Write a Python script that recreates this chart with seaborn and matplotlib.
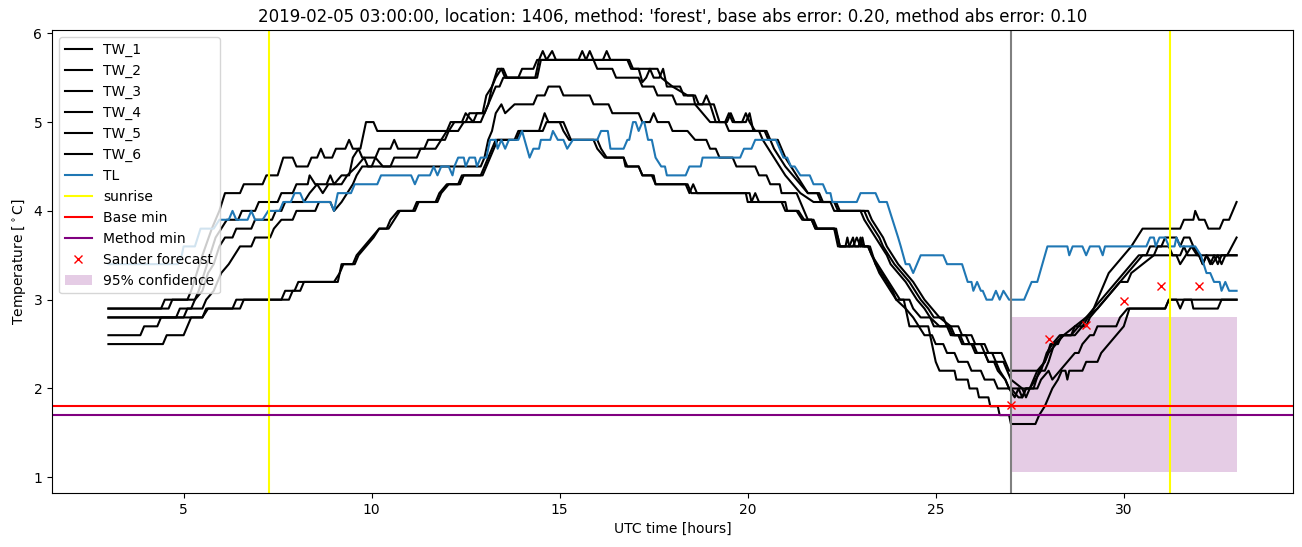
import matplotlib
matplotlib.use("Agg")
import matplotlib.pyplot as plt
import seaborn as sns
import pandas as pd

# ---------------- data (hour, temperature) ----------------
TW_1 = [(3.0,2.9),(4.6,2.9),(4.7,3.0),(5.1,3.0),(5.2,3.1),(5.35,3.3),(5.5,3.5),(5.75,3.8),(5.95,4.0),(6.1,4.2),(6.5,4.2),(6.6,4.3),(7.1,4.3),(7.2,4.4),(7.5,4.4),(7.65,4.6),(7.9,4.6),(8.0,4.5),(8.3,4.5),(8.4,4.6),(8.55,4.6),(8.65,4.7),(8.75,4.6),(8.95,4.6),(9.05,4.7),(9.3,4.7),(9.4,4.8),(9.5,4.7),(9.7,4.7),(9.85,5.0),(10.05,5.0),(10.15,4.9),(12.0,4.9),(12.1,5.0),(12.5,5.0),(12.6,5.1),(12.95,5.1),(13.05,5.3),(13.2,5.4),(13.35,5.6),(13.5,5.6),(13.6,5.5),(14.35,5.5),(14.45,5.7),(14.55,5.8),(14.65,5.7),(14.8,5.8),(14.9,5.7),(15.5,5.7),(15.6,5.8),(15.7,5.7),(15.8,5.8),(15.9,5.7),(16.15,5.7),(16.25,5.8),(16.35,5.7),(16.85,5.7),(16.95,5.6),(17.4,5.6),(17.5,5.5),(17.65,5.5),(17.75,5.6),(17.85,5.4),(18.2,5.4),(18.3,5.3),(18.55,5.3),(18.6,5.2),(18.8,5.2),(18.9,5.3),(19.0,5.2),(19.1,5.2),(19.25,5.0),(19.4,5.0),(19.5,5.1),(19.6,5.0),(19.95,5.0),(20.05,5.1),(20.15,4.9),(20.45,4.9),(20.55,4.8),(20.8,4.8),(20.9,4.7),(21.0,4.6),(21.15,4.5),(21.3,4.4),(21.45,4.3),(21.6,4.2),(21.85,4.2),(21.95,4.1),(22.3,4.1),(22.4,4.0),(23.1,4.0),(23.2,3.9),(23.35,3.8),(23.5,3.7),(23.6,3.6),(23.75,3.5),(23.9,3.4),(24.1,3.3),(24.3,3.2),(24.45,3.1),(24.6,3.0),(24.8,2.9),(24.95,2.8),(25.2,2.8),(25.3,2.7),(25.6,2.7),(25.7,2.6),(25.95,2.6),(26.05,2.5),(26.3,2.5),(26.4,2.4),(26.75,2.4),(26.85,2.3),(26.95,2.2),(27.9,2.2),(28.0,2.3),(28.15,2.5),(28.4,2.6),(28.7,2.7),(29.0,2.8),(29.3,2.9),(29.5,3.0),(29.7,3.1),(29.9,3.2),(30.1,3.2),(30.2,3.3),(30.5,3.4),(30.8,3.5),(31.4,3.5),(31.5,3.4),(31.65,3.5),(31.8,3.6),(31.95,3.5),(33.0,3.5)]

TW_2 = [(3.0,2.9),(4.4,2.9),(4.5,3.0),(5.3,3.0),(5.4,3.1),(5.55,3.3),(5.7,3.5),(5.85,3.7),(6.0,3.8),(6.15,3.9),(6.45,3.9),(6.55,4.0),(6.9,4.0),(7.0,4.1),(7.5,4.1),(7.6,4.2),(7.9,4.2),(8.0,4.3),(8.3,4.3),(8.35,4.4),(8.5,4.3),(8.8,4.3),(8.9,4.4),(9.0,4.3),(9.2,4.4),(9.4,4.4),(9.5,4.6),(9.65,4.7),(9.75,4.6),(10.1,4.6),(10.2,4.7),(10.5,4.7),(10.6,4.8),(10.7,4.7),(11.4,4.7),(11.5,4.8),(11.95,4.8),(12.05,4.9),(12.2,5.0),(12.4,5.0),(12.5,5.1),(12.7,5.0),(12.8,5.1),(13.0,5.1),(13.1,5.2),(13.2,5.4),(13.3,5.5),(13.45,5.6),(13.55,5.5),(13.9,5.5),(14.0,5.6),(14.3,5.6),(14.4,5.7),(16.8,5.7),(16.9,5.6),(17.1,5.6),(17.2,5.45),(17.3,5.5),(17.4,5.6),(17.6,5.6),(17.7,5.5),(18.0,5.4),(18.4,5.3),(18.6,5.3),(18.7,5.2),(19.0,5.2),(19.15,5.0),(19.45,5.0),(19.55,5.1),(19.65,5.0),(19.85,5.0),(19.95,5.1),(20.05,5.0),(20.2,4.9),(20.5,4.9),(20.6,4.8),(20.7,4.7),(20.85,4.6),(21.0,4.5),(21.2,4.4),(21.4,4.3),(21.6,4.2),(21.9,4.2),(22.0,4.1),(22.35,4.1),(22.45,4.0),(23.2,4.0),(23.3,3.9),(23.45,3.8),(23.6,3.7),(23.7,3.6),(23.85,3.5),(24.0,3.4),(24.2,3.3),(24.4,3.2),(24.55,3.1),(24.7,3.0),(24.9,2.9),(25.1,2.8),(25.4,2.7),(25.5,2.6),(25.8,2.6),(25.9,2.5),(26.2,2.5),(26.3,2.4),(26.5,2.4),(26.6,2.3),(26.8,2.3),(26.9,2.2),(27.0,2.1),(27.3,2.0),(27.4,1.9),(27.5,2.0),(27.65,2.1),(27.8,2.2),(27.95,2.4),(28.1,2.5),(28.3,2.6),(28.6,2.6),(28.8,2.7),(29.0,2.8),(29.2,2.9),(29.4,3.1),(29.6,3.3),(29.8,3.4),(30.0,3.5),(30.2,3.6),(30.35,3.7),(30.5,3.8),(31.5,3.8),(31.6,3.9),(31.85,3.9),(31.9,4.0),(32.0,3.9),(32.15,3.9),(32.25,3.8),(32.55,3.8),(32.65,3.9),(32.8,3.9),(33.0,4.1)]

TW_3 = [(3.0,2.8),(4.8,2.8),(4.9,2.9),(5.2,2.9),(5.3,3.0),(5.5,3.1),(5.65,3.3),(5.8,3.4),(5.95,3.6),(6.1,3.7),(6.3,3.7),(6.4,3.8),(6.8,3.8),(6.9,3.9),(7.35,3.9),(7.45,4.0),(7.6,4.0),(7.7,4.1),(8.2,4.1),(8.35,4.2),(8.55,4.3),(8.7,4.2),(8.85,4.3),(9.2,4.3),(9.35,4.4),(9.6,4.5),(9.8,4.6),(9.9,4.5),(10.5,4.5),(10.6,4.6),(11.2,4.6),(11.3,4.7),(11.7,4.7),(11.85,4.8),(12.0,4.9),(12.3,4.9),(12.45,5.0),(12.9,5.0),(13.0,5.1),(13.1,5.2),(13.3,5.4),(13.4,5.4),(13.5,5.5),(14.4,5.5),(14.5,5.7),(15.9,5.7),(16.0,5.6),(16.4,5.6),(16.5,5.5),(17.1,5.5),(17.2,5.4),(17.5,5.4),(17.6,5.3),(18.0,5.3),(18.1,5.2),(18.6,5.2),(18.8,5.1),(19.0,5.0),(19.4,5.0),(19.5,4.9),(20.3,4.9),(20.4,4.8),(20.55,4.7),(20.7,4.6),(20.85,4.5),(21.0,4.4),(21.2,4.3),(21.4,4.2),(21.75,4.1),(22.2,4.1),(22.3,4.0),(23.0,4.0),(23.1,3.9),(23.25,3.8),(23.4,3.7),(23.55,3.6),(23.7,3.5),(23.8,3.4),(24.0,3.3),(24.2,3.2),(24.35,3.1),(24.5,3.0),(24.7,2.9),(24.85,2.8),(25.1,2.7),(25.35,2.7),(25.45,2.6),(25.65,2.6),(25.75,2.5),(26.0,2.5),(26.1,2.4),(26.3,2.4),(26.4,2.3),(26.55,2.3),(26.65,2.2),(26.85,2.1),(26.95,2.0),(27.5,2.0),(27.7,2.2),(27.9,2.3),(28.0,2.4),(28.2,2.5),(28.4,2.6),(28.7,2.6),(28.9,2.7),(29.2,2.9),(29.4,3.0),(29.6,3.1),(29.8,3.2),(30.0,3.3),(30.2,3.4),(30.4,3.5),(30.6,3.5),(30.7,3.6),(31.0,3.6),(31.1,3.7),(31.4,3.7),(31.5,3.6),(31.6,3.7),(31.75,3.7),(31.85,3.6),(32.0,3.5),(32.1,3.4),(32.2,3.5),(32.3,3.4),(32.4,3.5),(32.5,3.4),(32.6,3.5),(32.75,3.5),(33.0,3.7)]

TW_4 = [(3.0,2.8),(5.0,2.8),(5.1,2.9),(5.5,2.9),(5.6,3.0),(5.8,3.1),(6.0,3.3),(6.2,3.4),(6.35,3.5),(6.5,3.6),(6.8,3.6),(6.9,3.7),(7.3,3.7),(7.4,3.8),(7.6,3.9),(7.9,3.9),(8.0,4.0),(8.5,4.0),(8.6,4.1),(8.9,4.1),(9.0,4.0),(9.2,4.1),(9.35,4.2),(9.5,4.3),(9.6,4.4),(9.75,4.5),(10.0,4.5),(10.1,4.6),(10.3,4.5),(12.9,4.5),(13.0,4.6),(13.1,4.8),(13.2,4.9),(13.3,5.1),(13.45,5.2),(13.55,5.1),(13.8,5.2),(14.3,5.2),(14.4,5.3),(14.6,5.3),(14.7,5.4),(15.0,5.4),(15.1,5.3),(15.8,5.3),(15.9,5.2),(16.3,5.2),(16.4,5.1),(17.1,5.1),(17.2,5.0),(17.4,5.0),(17.5,5.1),(17.6,5.0),(17.9,5.0),(18.0,4.9),(18.4,4.9),(18.6,4.8),(18.9,4.8),(19.0,4.7),(19.15,4.7),(19.25,4.6),(19.6,4.6),(19.7,4.5),(20.2,4.5),(20.3,4.4),(20.5,4.4),(20.6,4.3),(20.85,4.3),(20.9,4.2),(21.3,4.2),(21.4,4.1),(21.5,4.0),(21.6,3.9),(21.7,3.9),(21.8,3.8),(22.3,3.8),(22.4,3.7),(22.45,3.6),(22.8,3.6),(22.9,3.7),(23.0,3.6),(23.2,3.6),(23.3,3.5),(23.45,3.4),(23.6,3.3),(23.75,3.2),(23.9,3.1),(24.05,3.0),(24.3,3.0),(24.4,2.9),(24.6,2.8),(24.85,2.8),(24.95,2.7),(25.3,2.7),(25.4,2.6),(25.6,2.6),(25.7,2.5),(25.95,2.5),(26.05,2.4),(26.3,2.4),(26.4,2.3),(26.6,2.3),(26.7,2.2),(26.85,2.1),(26.95,2.0),(27.1,1.9),(27.2,2.0),(27.3,1.9),(27.4,2.0),(27.6,2.0),(27.75,2.2),(27.9,2.3),(28.05,2.5),(28.25,2.5),(28.35,2.6),(28.6,2.6),(28.7,2.7),(29.0,2.7),(29.1,2.8),(29.3,2.9),(29.5,3.0),(29.7,3.1),(29.9,3.2),(30.1,3.3),(30.3,3.4),(30.5,3.5),(30.8,3.5),(30.9,3.6),(31.2,3.6),(31.3,3.5),(31.5,3.5),(31.6,3.6),(31.7,3.5),(32.0,3.5),(32.1,3.4),(32.2,3.5),(32.35,3.4),(32.5,3.5),(32.6,3.4),(32.7,3.5),(33.0,3.5)]

TW_5 = [(3.0,2.6),(3.85,2.6),(3.95,2.7),(4.3,2.7),(4.4,2.8),(5.5,2.8),(5.6,2.9),(6.3,2.9),(6.4,3.0),(7.6,3.0),(7.7,3.1),(7.95,3.1),(8.05,3.2),(9.1,3.2),(9.2,3.4),(9.5,3.4),(9.6,3.5),(9.8,3.6),(10.0,3.7),(10.2,3.8),(10.4,3.8),(10.5,3.9),(10.7,4.0),(11.1,4.0),(11.2,4.1),(11.7,4.1),(11.8,4.2),(12.0,4.3),(12.3,4.3),(12.4,4.4),(12.9,4.4),(13.0,4.5),(13.1,4.6),(13.2,4.7),(13.3,4.8),(13.8,4.8),(13.9,4.9),(14.45,4.9),(14.6,5.1),(14.7,5.0),(15.1,5.0),(15.2,4.9),(15.3,4.8),(15.9,4.8),(16.0,4.7),(16.2,4.6),(16.7,4.6),(16.75,4.5),(17.1,4.5),(17.2,4.4),(17.5,4.4),(17.55,4.3),(18.35,4.3),(18.45,4.2),(18.55,4.3),(18.65,4.2),(19.95,4.2),(20.0,4.1),(20.9,4.1),(21.0,4.0),(21.3,4.0),(21.45,3.9),(21.7,3.9),(21.8,3.8),(22.3,3.8),(22.4,3.6),(22.6,3.6),(22.65,3.7),(22.7,3.6),(22.95,3.6),(23.0,3.7),(23.05,3.6),(23.2,3.6),(23.3,3.5),(23.4,3.4),(23.5,3.3),(23.65,3.2),(23.8,3.1),(23.95,3.0),(24.2,2.9),(24.4,2.8),(24.55,2.7),(24.7,2.6),(24.9,2.6),(25.0,2.5),(25.2,2.5),(25.3,2.4),(25.5,2.4),(25.6,2.3),(25.85,2.3),(25.95,2.2),(26.2,2.2),(26.3,2.1),(26.55,2.1),(26.65,2.0),(27.0,2.0),(27.2,1.9),(27.3,1.9),(27.4,2.0),(27.7,2.0),(27.8,2.1),(28.0,2.2),(28.1,2.1),(28.3,2.2),(28.5,2.3),(28.7,2.4),(28.8,2.4),(28.9,2.5),(29.1,2.6),(29.2,2.6),(29.3,2.7),(29.8,2.7),(29.9,2.8),(30.1,2.9),(31.1,2.9),(31.2,3.0),(31.4,3.0),(31.5,2.9),(31.6,3.0),(31.8,3.0),(31.85,2.9),(32.5,2.9),(32.6,3.0),(33.0,3.0)]

TW_6 = [(3.0,2.5),(4.45,2.5),(4.55,2.6),(5.0,2.6),(5.1,2.7),(5.2,2.8),(5.5,2.8),(5.65,2.9),(6.5,2.9),(6.6,3.0),(7.8,3.0),(7.9,3.1),(8.1,3.1),(8.2,3.2),(9.0,3.2),(9.15,3.3),(9.25,3.4),(9.55,3.4),(9.65,3.5),(9.85,3.6),(10.05,3.7),(10.2,3.8),(10.45,3.8),(10.6,3.9),(10.75,4.0),(11.15,4.0),(11.25,4.1),(11.75,4.1),(11.85,4.2),(12.05,4.3),(12.35,4.3),(12.45,4.4),(12.95,4.4),(13.05,4.5),(13.15,4.6),(13.25,4.7),(13.35,4.8),(13.85,4.8),(13.95,4.9),(14.55,4.9),(14.65,5.0),(15.0,5.0),(15.1,4.9),(15.25,4.8),(16.0,4.8),(16.1,4.7),(16.25,4.6),(16.7,4.6),(16.8,4.5),(17.1,4.5),(17.2,4.4),(17.45,4.4),(17.55,4.3),(18.4,4.3),(18.5,4.2),(20.05,4.2),(20.1,4.1),(20.2,4.2),(20.3,4.1),(21.0,4.1),(21.05,4.0),(21.35,4.0),(21.5,3.9),(21.75,3.9),(21.85,3.8),(22.35,3.8),(22.45,3.6),(22.7,3.6),(22.8,3.7),(22.85,3.6),(23.0,3.6),(23.05,3.7),(23.1,3.6),(23.25,3.6),(23.4,3.4),(23.55,3.3),(23.7,3.2),(23.85,3.1),(23.95,3.0),(24.15,3.0),(24.25,2.8),(24.3,2.7),(24.8,2.7),(24.9,2.5),(25.0,2.3),(25.1,2.2),(25.5,2.2),(25.55,2.1),(25.85,2.1),(25.9,2.0),(26.1,2.0),(26.15,1.9),(26.4,1.9),(26.45,1.8),(26.65,1.8),(26.7,1.7),(26.95,1.7),(27.0,1.6),(27.65,1.6),(27.75,1.7),(27.9,1.8),(28.0,1.9),(28.1,2.0),(28.25,2.1),(28.35,2.2),(28.45,2.2),(28.5,2.1),(28.55,2.2),(28.9,2.2),(29.0,2.3),(29.3,2.3),(29.4,2.4),(29.6,2.5),(29.8,2.6),(30.0,2.7),(30.15,2.9),(31.1,2.9),(31.2,3.0),(33.0,3.0)]

TL = [(3.0,3.4),(4.85,3.4),(4.95,3.5),(5.0,3.6),(5.3,3.6),(5.45,3.8),(5.8,3.8),(5.95,3.9),(6.2,3.9),(6.3,4.0),(6.4,3.9),(6.7,3.9),(6.8,4.0),(6.9,3.9),(7.1,3.9),(7.25,4.0),(7.55,4.0),(7.65,4.1),(7.85,4.1),(7.95,4.2),(8.1,4.2),(8.2,4.1),(8.9,4.1),(9.0,4.0),(9.1,4.2),(9.45,4.2),(9.55,4.3),(10.15,4.3),(10.25,4.4),(11.05,4.4),(11.15,4.3),(11.25,4.4),(11.55,4.4),(11.65,4.5),(11.75,4.4),(11.85,4.5),(12.05,4.5),(12.15,4.4),(12.2,4.5),(12.3,4.6),(12.45,4.6),(12.5,4.5),(12.6,4.6),(12.75,4.6),(12.8,4.5),(12.9,4.6),(13.05,4.6),(13.15,4.8),(13.3,4.8),(13.35,4.7),(13.45,4.8),(13.55,4.7),(13.65,4.8),(13.9,4.8),(14.0,4.9),(14.2,4.6),(14.3,4.7),(14.45,4.7),(14.5,4.8),(14.75,4.8),(14.82,4.9),(14.95,4.8),(15.1,4.8),(15.2,4.7),(15.35,4.8),(16.0,4.8),(16.1,4.9),(16.28,4.9),(16.35,4.7),(16.7,4.7),(16.8,4.8),(16.85,4.8),(16.95,5.0),(17.02,5.0),(17.1,4.9),(17.2,5.0),(17.25,5.0),(17.35,4.8),(17.45,4.8),(17.55,4.6),(17.7,4.5),(17.8,4.5),(17.85,4.4),(18.35,4.4),(18.45,4.5),(18.75,4.5),(18.8,4.6),(19.8,4.6),(19.9,4.7),(20.1,4.7),(20.2,4.8),(20.75,4.8),(20.85,4.7),(20.95,4.6),(21.05,4.6),(21.15,4.5),(21.25,4.5),(21.4,4.4),(21.65,4.4),(21.75,4.3),(22.0,4.3),(22.1,4.2),(22.2,4.2),(22.25,4.1),(22.9,4.1),(23.0,4.2),(23.4,4.2),(23.5,4.1),(23.7,4.1),(23.85,3.9),(24.0,3.7),(24.07,3.6),(24.2,3.4),(24.3,3.4),(24.4,3.3),(24.6,3.5),(25.2,3.5),(25.3,3.4),(25.7,3.4),(25.85,3.2),(25.95,3.2),(26.0,3.1),(26.1,3.2),(26.2,3.1),(26.25,3.1),(26.35,3.0),(26.5,3.0),(26.6,3.1),(26.7,3.0),(26.8,3.1),(26.95,3.0),(27.35,3.0),(27.45,3.1),(27.55,3.2),(27.7,3.2),(27.97,3.6),(28.5,3.6),(28.55,3.5),(28.64,3.6),(28.9,3.6),(29.0,3.5),(29.1,3.6),(29.35,3.6),(29.44,3.5),(29.5,3.6),(30.6,3.6),(30.7,3.7),(30.8,3.7),(30.85,3.6),(30.95,3.7),(31.1,3.7),(31.2,3.6),(31.35,3.6),(31.4,3.7),(31.5,3.6),(31.9,3.6),(32.05,3.5),(32.2,3.3),(32.3,3.3),(32.4,3.2),(32.55,3.2),(32.6,3.1),(32.7,3.2),(32.8,3.1),(33.0,3.1)]

SERIES_NAMES = ["TW_1", "TW_2", "TW_3", "TW_4", "TW_5", "TW_6"]
SUNRISE_HOURS = [7.26, 31.22]
FORECAST_START = 27.0
BASE_MIN = 1.8
METHOD_MIN = 1.7
FORECAST_HOURS = [27, 28, 29, 30, 31, 32]
FORECAST_TEMPS = [1.81, 2.56, 2.71, 2.98, 3.15, 3.15]
CONF_HOURS = [27, 33]
CONF_LOW = 1.06
CONF_HIGH = 2.8

TITLE = ("2019-02-05 03:00:00, location: 1406, method: 'forest', "
         "base abs error: 0.20, method abs error: 0.10")

# ---------------- plotting ----------------
fig = plt.figure(figsize=(13.02, 5.47), dpi=100)
ax = fig.add_axes([52 / 1302, 1 - 493 / 547, (1293 - 52) / 1302, (493 - 30) / 547])

for name, series in zip(SERIES_NAMES, [TW_1, TW_2, TW_3, TW_4, TW_5, TW_6]):
    df = pd.DataFrame(series, columns=["hour", "temp"])
    sns.lineplot(data=df, x="hour", y="temp", ax=ax, color="black",
                 label=name, estimator=None, sort=False, linewidth=1.5)

df_tl = pd.DataFrame(TL, columns=["hour", "temp"])
sns.lineplot(data=df_tl, x="hour", y="temp", ax=ax, color="#1f77b4",
             label="TL", estimator=None, sort=False, linewidth=1.5)

for i, h in enumerate(SUNRISE_HOURS):
    ax.axvline(h, color="yellow", label="sunrise" if i == 0 else None)
ax.axhline(BASE_MIN, color="red", label="Base min")
ax.axhline(METHOD_MIN, color="purple", label="Method min")
ax.axvline(FORECAST_START, color="grey")

df_fc = pd.DataFrame({"hour": FORECAST_HOURS, "temp": FORECAST_TEMPS})
sns.lineplot(data=df_fc, x="hour", y="temp", ax=ax, color="red", marker="x",
             markeredgecolor="red", markeredgewidth=1.0, markersize=6,
             linestyle="", label="Sander forecast", estimator=None, sort=False)

ax.fill_between(CONF_HOURS, CONF_LOW, CONF_HIGH, color="purple", alpha=0.2,
                linewidth=0, label="95% confidence")

ax.set_title(TITLE, fontsize=12)
ax.set_xlabel("UTC time [hours]")
ax.set_ylabel("Temperature [$^\\circ$C]")
ax.legend(loc="upper left")

fig.savefig("out.png", dpi=100)
